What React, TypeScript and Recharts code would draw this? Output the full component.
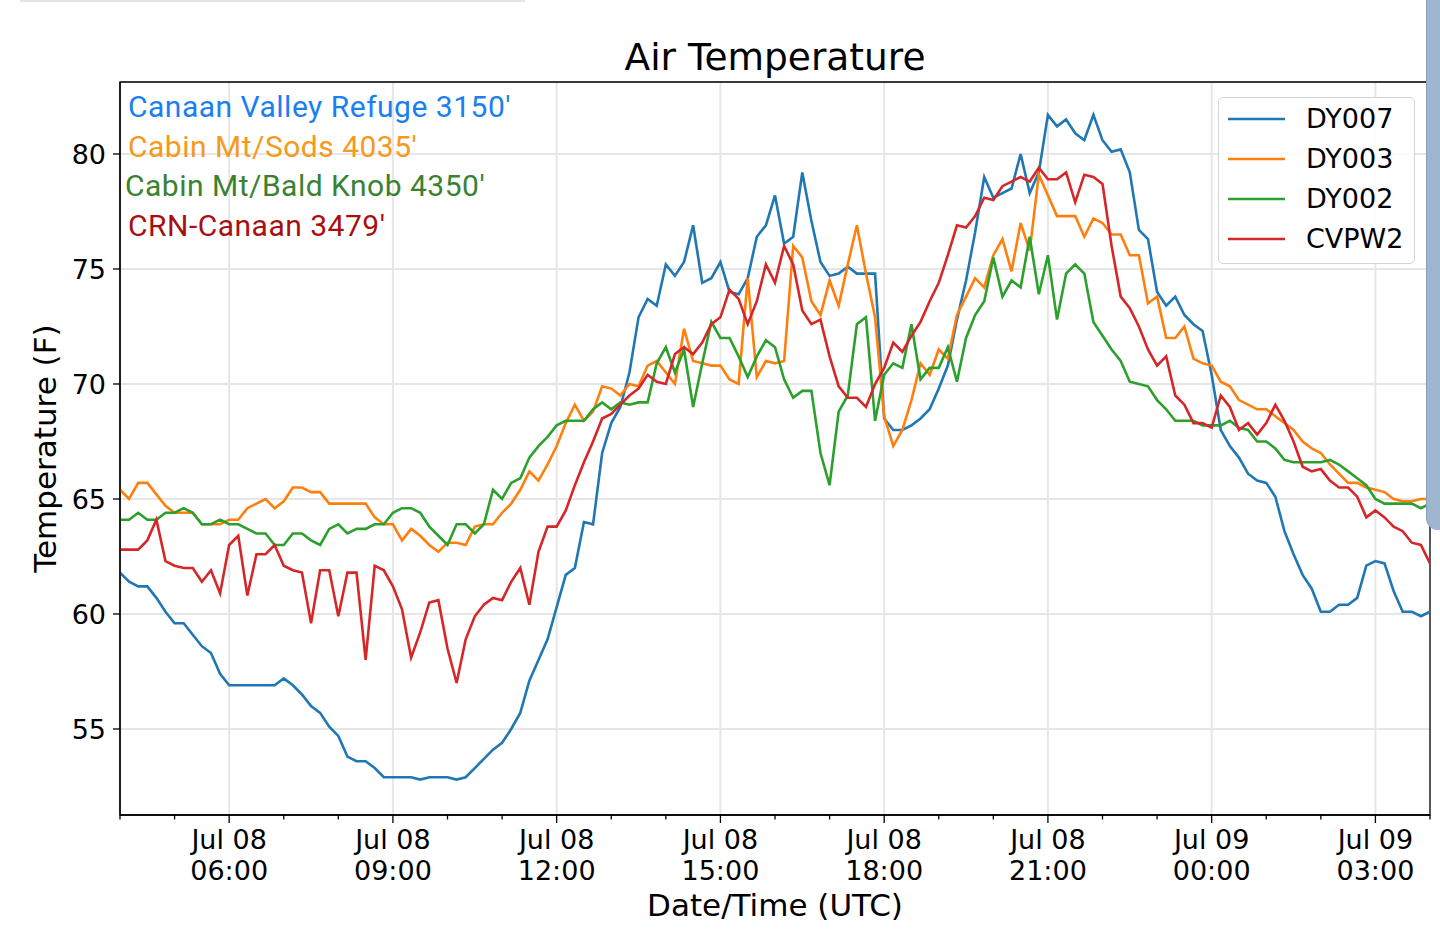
import { LineChart, Line, XAxis, YAxis, CartesianGrid, Label, ReferenceArea } from 'recharts';

// 10-minute readings, Jul 08 04:00 UTC -> Jul 09 04:00 UTC (°F)
const DY007 = [
    61.8, 61.4, 61.2, 61.2, 60.7, 60.1, 59.6, 59.6, 59.1, 58.6,
    58.3, 57.4, 56.9, 56.9, 56.9, 56.9, 56.9, 56.9, 57.2, 56.9,
    56.5, 56.0, 55.7, 55.1, 54.7, 53.8, 53.6, 53.6, 53.3, 52.9,
    52.9, 52.9, 52.9, 52.8, 52.9, 52.9, 52.9, 52.8, 52.9, 53.3,
    53.7, 54.1, 54.4, 55.0, 55.7, 57.1, 58.0, 58.9, 60.3, 61.7,
    62.0, 64.0, 63.9, 67.0, 68.3, 69.0, 70.5, 72.9, 73.7, 73.4,
    75.2, 74.7, 75.3, 76.9, 74.4, 74.6, 75.3, 74.0, 73.9, 74.6,
    76.4, 76.9, 78.2, 76.1, 76.4, 79.2, 77.1, 75.3, 74.7, 74.8,
    75.1, 74.8, 74.8, 74.8, 68.5, 68.0, 68.0, 68.2, 68.5, 68.9,
    69.8, 70.8, 72.8, 74.5, 76.6, 79.0, 78.1, 78.3, 78.5, 80.0,
    78.3, 79.2, 81.7, 81.2, 81.5, 80.9, 80.6, 81.7, 80.6, 80.1,
    80.2, 79.2, 76.7, 76.3, 74.0, 73.4, 73.8, 73.0, 72.6, 72.3,
    70.4, 68.0, 67.3, 66.8, 66.1, 65.8, 65.7, 65.1, 63.6, 62.6,
    61.7, 61.1, 60.1, 60.1, 60.4, 60.4, 60.7, 62.1, 62.3, 62.2,
    61.0, 60.1, 60.1, 59.9, 60.1,
];

const DY003 = [
    65.4, 65.0, 65.7, 65.7, 65.2, 64.7, 64.4, 64.4, 64.4, 63.9,
    63.9, 63.9, 64.1, 64.1, 64.6, 64.8, 65.0, 64.6, 64.9, 65.5,
    65.5, 65.3, 65.3, 64.8, 64.8, 64.8, 64.8, 64.8, 64.2, 63.9,
    63.9, 63.2, 63.7, 63.4, 63.0, 62.7, 63.1, 63.1, 63.0, 63.8,
    63.9, 63.9, 64.4, 64.8, 65.4, 66.2, 65.8, 66.5, 67.3, 68.3,
    69.1, 68.4, 68.8, 69.9, 69.8, 69.5, 70.0, 69.9, 70.8, 71.0,
    70.5, 70.0, 72.4, 71.0, 70.9, 70.8, 70.8, 70.2, 70.0, 74.6,
    70.3, 71.0, 70.9, 71.0, 76.0, 75.5, 73.6, 73.0, 74.5, 73.4,
    75.2, 76.9, 74.8, 72.9, 68.6, 67.3, 68.0, 69.3, 70.9, 70.4,
    71.5, 71.1, 73.0, 73.8, 74.6, 74.2, 75.6, 76.3, 74.9, 77.0,
    75.8, 79.1, 78.2, 77.3, 77.3, 77.3, 76.4, 77.2, 77.0, 76.5,
    76.5, 75.6, 75.6, 73.5, 73.8, 72.0, 72.0, 72.5, 71.1, 70.9,
    70.8, 70.1, 69.9, 69.3, 69.1, 68.9, 68.9, 68.6, 68.3, 68.0,
    67.5, 67.2, 67.0, 66.5, 66.1, 65.7, 65.7, 65.5, 65.4, 65.3,
    65.0, 64.9, 64.9, 65.0, 65.0,
];

const DY002 = [
    64.1, 64.1, 64.4, 64.1, 64.1, 64.4, 64.4, 64.6, 64.4, 63.9,
    63.9, 64.1, 63.9, 63.9, 63.7, 63.5, 63.5, 63.0, 63.0, 63.5,
    63.5, 63.2, 63.0, 63.7, 63.9, 63.5, 63.7, 63.7, 63.9, 63.9,
    64.4, 64.6, 64.6, 64.4, 63.8, 63.4, 63.0, 63.9, 63.9, 63.5,
    63.9, 65.4, 65.0, 65.7, 65.9, 66.8, 67.3, 67.7, 68.2, 68.4,
    68.4, 68.4, 68.9, 69.2, 68.9, 69.2, 69.1, 69.2, 69.2, 70.9,
    71.6, 70.5, 71.5, 69.0, 70.9, 72.7, 72.0, 72.0, 71.2, 70.3,
    71.2, 71.9, 71.6, 70.2, 69.4, 69.7, 69.7, 67.0, 65.6, 68.8,
    69.5, 72.6, 72.9, 68.4, 70.4, 70.9, 70.7, 72.6, 70.2, 70.7,
    70.7, 71.6, 70.1, 72.0, 73.0, 73.6, 75.5, 73.8, 74.5, 74.2,
    76.4, 73.9, 75.6, 72.8, 74.8, 75.2, 74.8, 72.7, 72.1, 71.5,
    71.0, 70.1, 70.0, 69.9, 69.3, 68.9, 68.4, 68.4, 68.4, 68.2,
    68.2, 68.2, 68.4, 68.1, 68.0, 67.5, 67.5, 67.2, 66.7, 66.6,
    66.6, 66.6, 66.6, 66.7, 66.5, 66.2, 65.9, 65.6, 65.0, 64.8,
    64.8, 64.8, 64.8, 64.6, 64.8,
];

const CVPW2 = [
    62.8, 62.8, 62.8, 63.2, 64.1, 62.3, 62.1, 62.0, 62.0, 61.4,
    61.9, 60.9, 63.0, 63.4, 60.8, 62.6, 62.6, 63.0, 62.1, 61.9,
    61.8, 59.6, 61.9, 61.9, 59.9, 61.8, 61.8, 58.0, 62.1, 61.9,
    61.2, 60.2, 58.1, 59.2, 60.5, 60.6, 58.5, 57.0, 58.9, 59.9,
    60.4, 60.7, 60.6, 61.4, 62.0, 60.4, 62.7, 63.8, 63.8, 64.5,
    65.6, 66.6, 67.5, 68.5, 68.7, 69.1, 69.5, 69.8, 70.4, 70.1,
    70.0, 71.3, 71.6, 71.3, 71.8, 72.6, 72.9, 74.1, 73.7, 72.6,
    73.6, 75.2, 74.4, 76.0, 75.2, 73.2, 72.6, 72.8, 71.2, 69.9,
    69.4, 69.4, 69.0, 70.0, 70.7, 71.8, 71.4, 72.1, 72.7, 73.6,
    74.4, 75.6, 76.9, 76.8, 77.3, 78.1, 78.0, 78.6, 78.8, 79.0,
    78.8, 79.4, 78.9, 78.9, 79.2, 77.9, 79.1, 79.0, 78.7, 76.0,
    73.8, 73.3, 72.5, 71.5, 70.8, 71.2, 69.5, 69.1, 68.3, 68.3,
    68.1, 69.5, 69.0, 68.0, 68.3, 67.8, 68.3, 69.1, 68.4, 67.5,
    66.4, 66.2, 66.3, 65.8, 65.5, 65.5, 65.1, 64.2, 64.5, 64.2,
    63.8, 63.6, 63.1, 63.0, 62.2,
];

const SERIES_KEYS = ['DY007', 'DY003', 'DY002', 'CVPW2'];
const SERIES_COLORS = ['#1f77b4', '#ff7f0e', '#2ca02c', '#d62728'];

const STATION_NOTES = ["Canaan Valley Refuge 3150'", "Cabin Mt/Sods 4035'", "Cabin Mt/Bald Knob 4350'", "CRN-Canaan 3479'"];
const NOTE_COLORS = ['#1a7ff0', '#f7991c', '#3a8232', '#a80f0f'];

const X_MIN = 4;
const X_MAX = 28;
const HOUR_TICKS = [4, 5, 6, 7, 8, 9, 10, 11, 12, 13, 14, 15, 16, 17, 18, 19, 20, 21, 22, 23, 24, 25, 26, 27, 28];
const MAJOR_HOURS = [6, 9, 12, 15, 18, 21, 24, 27];
const Y_MIN = 51.26;
const Y_MAX = 83.13;
const Y_TICKS = [55, 60, 65, 70, 75, 80];

const FONT = '"DejaVu Sans", sans-serif';

const rows = DY007.map((_, i) => ({
    t: X_MIN + i / 6,
    DY007: DY007[i],
    DY003: DY003[i],
    DY002: DY002[i],
    CVPW2: CVPW2[i],
}));

const pad = (n: number) => (n < 10 ? `0${n}` : `${n}`);

const XTick = (props: any) => {
    const { x, y, payload } = props;
    const h = payload.value as number;
    const major = h % 3 === 0;
    return (
        <g>
            <line x1={x} x2={x} y1={y} y2={y + (major ? 8 : 4.5)} stroke="#000" strokeWidth={1.3} />
            {major && (
                <text x={x} y={y} textAnchor="middle" fontSize={27} fill="#000" fontFamily={FONT}>
                    <tspan x={x} dy={34}>{h < 24 ? 'Jul 08' : 'Jul 09'}</tspan>
                    <tspan x={x} dy={31}>{`${pad(h % 24)}:00`}</tspan>
                </text>
            )}
        </g>
    );
};

function SeriesLegend() {
    return (
        <div
            style={{
                position: 'absolute',
                left: 1218,
                top: 97,
                width: 197,
                height: 167,
                boxSizing: 'border-box',
                border: '1.5px solid #d4d4d4',
                borderRadius: 5,
                background: 'rgba(255,255,255,0.85)',
                paddingTop: 1,
                fontFamily: FONT,
                fontSize: 27,
                color: '#000',
            }}
        >
            {SERIES_KEYS.map((k, i) => (
                <div key={k} style={{ display: 'flex', alignItems: 'center', height: 40 }}>
                    <svg width={78} height={6} style={{ marginLeft: 9 }}>
                        <line x1={0} x2={57} y1={3} y2={3} stroke={SERIES_COLORS[i]} strokeWidth={2.6} />
                    </svg>
                    <span style={{ lineHeight: '40px' }}>{k}</span>
                </div>
            ))}
        </div>
    );
}

export default function App() {
    return (
        <div style={{ position: 'absolute', left: 0, top: 0, width: 1440, height: 938, background: '#fff', overflow: 'hidden' }}>
            <LineChart width={1440} height={938} data={rows} margin={{ top: 82, right: 10, bottom: 0, left: 20 }}>
                <CartesianGrid
                    stroke="#e6e6e6"
                    strokeWidth={2}
                    verticalCoordinatesGenerator={({ xAxis, offset }: any) =>
                        MAJOR_HOURS.map((h) =>
                            xAxis && typeof xAxis.scale === 'function'
                                ? xAxis.scale(h)
                                : offset.left + ((h - X_MIN) / (X_MAX - X_MIN)) * offset.width,
                        )
                    }
                />
                <XAxis
                    type="number"
                    dataKey="t"
                    domain={[X_MIN, X_MAX]}
                    ticks={HOUR_TICKS}
                    interval={0}
                    allowDataOverflow
                    tick={<XTick />}
                    tickLine={false}
                    tickSize={0}
                    tickMargin={0}
                    height={123}
                    axisLine={{ stroke: '#000', strokeWidth: 1.3 }}
                >
                    <Label
                        content={({ viewBox }: any) => (
                            <text
                                x={viewBox.x + viewBox.width / 2}
                                y={viewBox.y + 101}
                                textAnchor="middle"
                                fontSize={31}
                                fontFamily={FONT}
                                fill="#000"
                            >
                                Date/Time (UTC)
                            </text>
                        )}
                    />
                </XAxis>
                <YAxis
                    type="number"
                    domain={[Y_MIN, Y_MAX]}
                    ticks={Y_TICKS}
                    allowDataOverflow
                    width={100}
                    tickSize={7}
                    tickMargin={7}
                    tick={{ fontSize: 27, fill: '#000', fontFamily: FONT }}
                    tickLine={{ stroke: '#000', strokeWidth: 1.3 }}
                    axisLine={{ stroke: '#000', strokeWidth: 1.3 }}
                >
                    <Label
                        content={({ viewBox }: any) => {
                            const cy = viewBox.y + viewBox.height / 2;
                            return (
                                <text
                                    x={45}
                                    y={cy}
                                    transform={`rotate(-90 45 ${cy})`}
                                    textAnchor="middle"
                                    dominantBaseline="central"
                                    fontSize={31}
                                    fontFamily={FONT}
                                    fill="#000"
                                >
                                    Temperature (F)
                                </text>
                            );
                        }}
                    />
                </YAxis>
                {SERIES_KEYS.map((k, i) => (
                    <Line
                        key={k}
                        type="linear"
                        dataKey={k}
                        name={k}
                        stroke={SERIES_COLORS[i]}
                        strokeWidth={2.6}
                        dot={false}
                        isAnimationActive={false}
                    />
                ))}
                <ReferenceArea
                    x1={X_MIN}
                    x2={X_MAX}
                    y1={Y_MIN}
                    y2={Y_MAX}
                    fill="none"
                    fillOpacity={0}
                    stroke="#000"
                    strokeWidth={1.3}
                    ifOverflow="visible"
                />
            </LineChart>

            <SeriesLegend />

            <svg width={1440} height={938} style={{ position: 'absolute', left: 0, top: 0, pointerEvents: 'none' }}>
                <text x={775} y={70} textAnchor="middle" fontSize={37.5} fontFamily={FONT} fill="#000">
                    Air Temperature
                </text>
                {STATION_NOTES.map((s, i) => (
                    <text
                        key={s}
                        x={i === 2 ? 125 : 128}
                        y={117 + i * 39.5}
                        fontSize={30}
                        letterSpacing={0.5}
                        fontFamily="Roboto, sans-serif"
                        fill={NOTE_COLORS[i]}
                    >
                        {s}
                    </text>
                ))}
            </svg>

            <div style={{ position: 'absolute', left: 20, top: 0, width: 505, height: 2, background: '#e4e4e4' }} />
            <div
                style={{
                    position: 'absolute',
                    left: 1426,
                    top: 0,
                    width: 14,
                    height: 530,
                    background: '#9db5cf',
                    borderLeft: '1px solid #86a0bd',
                    borderBottomLeftRadius: 12,
                }}
            />
        </div>
    );
}
